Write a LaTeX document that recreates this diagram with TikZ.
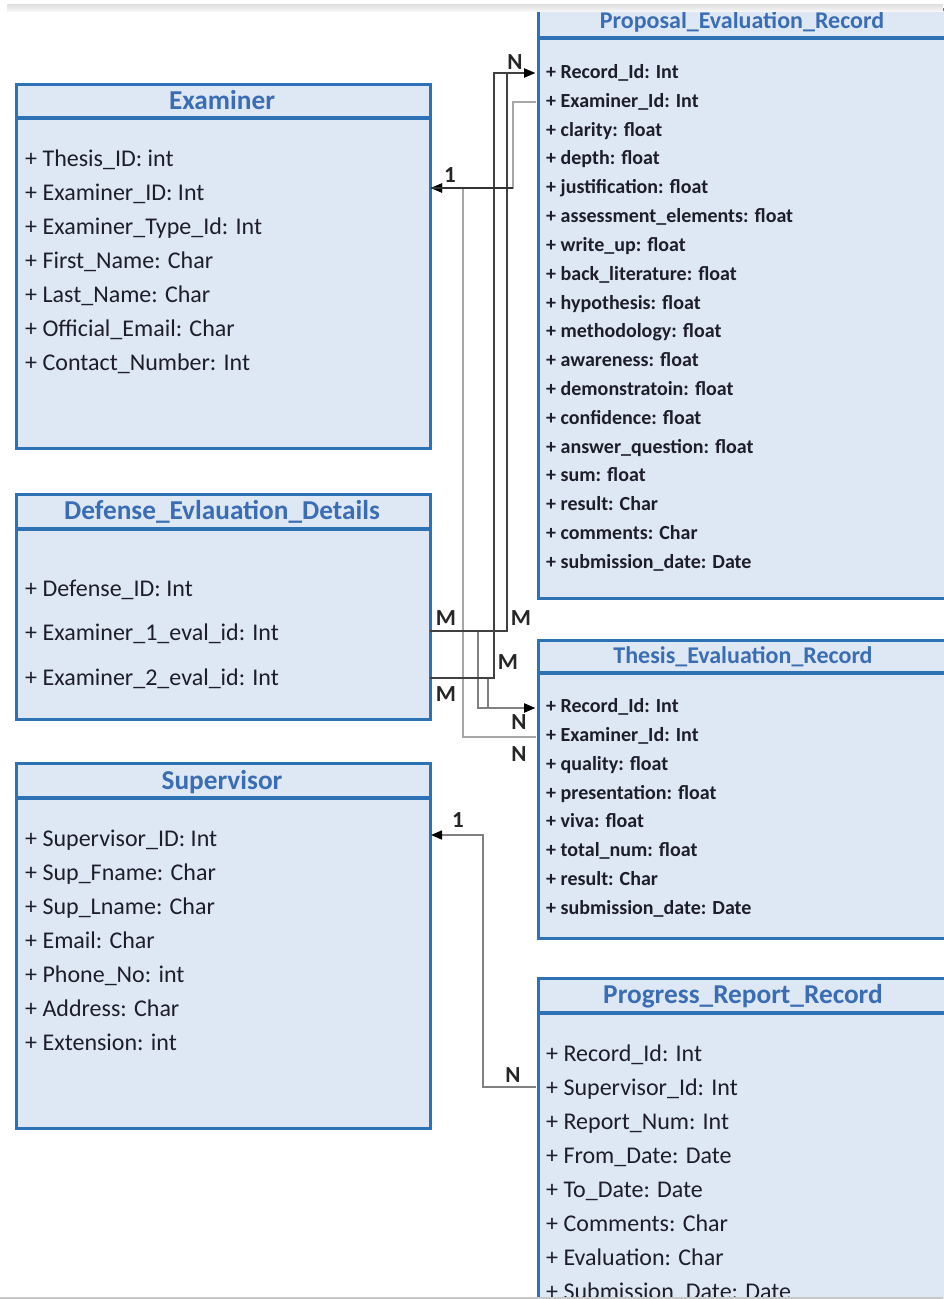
\documentclass[tikz,border=0pt]{standalone}
\usepackage{fontspec}
\setmainfont{Carlito}
\usetikzlibrary{arrows.meta}

\definecolor{boxfill}{HTML}{DEE8F4}
\definecolor{boxedge}{HTML}{2E72B6}
\definecolor{titleblue}{HTML}{3A6DB4}
\definecolor{fieldtext}{HTML}{1E1E2A}

\tikzset{
  entity/.style={draw=boxedge, fill=boxfill, line width=3.2pt, inner sep=0pt, anchor=north west},
  divider/.style={draw=boxedge, line width=3.2pt},
  ttl/.style={anchor=base, text=titleblue, inner sep=0pt, font=\bfseries\fontsize{27.3}{32}\selectfont},
  ttlsm/.style={ttl, font=\bfseries\fontsize{24}{28}\selectfont},
  fld/.style={anchor=base west, inner sep=0pt, text=fieldtext, font=\fontsize{24}{28}\selectfont},
  fldsm/.style={fld, font=\bfseries\fontsize{20}{24}\selectfont},
  card/.style={inner sep=0pt, text=black!85, font=\bfseries\fontsize{23}{26}\selectfont},
  tip/.style={-{Triangle[length=11pt,width=9pt,color=black]}},
  linkdark/.style={line width=1.5pt, draw=black!75, tip},
  linkmid/.style={line width=1.5pt, draw=black!50, tip},
  linklight/.style={line width=1.5pt, draw=black!35, tip},
}

\begin{document}
\begin{tikzpicture}[x=1pt,y=-1pt]
\useasboundingbox (0,0) rectangle (943,1299);
\fill[white] (0,0) rectangle (943,1299);

% ---------- Examiner ----------
\node[entity, minimum width=414pt, minimum height=364pt] (examiner) at (15,83) {};
\draw[divider] (15,118) -- (429,118);
\node[ttl] (examiner-t) at (222,109) {Examiner};
\foreach \t [count=\i from 0] in {Thesis\_ID: int, Examiner\_ID: Int, Examiner\_Type\_Id: Int,
    First\_Name: Char, Last\_Name: Char, Official\_Email: Char, Contact\_Number: Int}
  \node[fld] (ex\i) at (25,{166+34*\i}) {+ \t};

% ---------- Defense_Evlauation_Details ----------
\node[entity, minimum width=414pt, minimum height=225pt] (defense) at (15,493) {};
\draw[divider] (15,529) -- (429,529);
\node[ttl] (defense-t) at (222,519) {Defense\_Evlauation\_Details};
\node[fld] (df0) at (25,596) {+ Defense\_ID: Int};
\node[fld] (df1) at (25,640) {+ Examiner\_1\_eval\_id: Int};
\node[fld] (df2) at (25,685) {+ Examiner\_2\_eval\_id: Int};

% ---------- Supervisor ----------
\node[entity, minimum width=414pt, minimum height=365pt] (supervisor) at (15,762) {};
\draw[divider] (15,798) -- (429,798);
\node[ttl] (supervisor-t) at (222,789) {Supervisor};
\foreach \t [count=\i from 0] in {Supervisor\_ID: Int, Sup\_Fname: Char, Sup\_Lname: Char,
    Email: Char, Phone\_No: int, Address: Char, Extension: int}
  \node[fld] (sp\i) at (25,{846+34*\i}) {+ \t};

% ---------- Proposal_Evaluation_Record ----------
\node[entity, minimum width=413pt, minimum height=589pt] (proposal) at (537,8) {};
\draw[divider] (537,38) -- (950,38);
\node[ttlsm] (proposal-t) at (742,28) {Proposal\_Evaluation\_Record};
\foreach \t [count=\i from 0] in {Record\_Id: Int, Examiner\_Id: Int, clarity: float, depth: float,
    justification: float, assessment\_elements: float, write\_up: float, back\_literature: float,
    hypothesis: float, methodology: float, awareness: float, demonstratoin: float,
    confidence: float, answer\_question: float, sum: float, result: Char, comments: Char,
    submission\_date: Date}
  \node[fldsm] (pr\i) at (546,{78.5+28.82*\i}) {+ \t};

% ---------- Thesis_Evaluation_Record ----------
\node[entity, minimum width=413pt, minimum height=298pt] (thesis) at (537,639) {};
\draw[divider] (537,673) -- (950,673);
\node[ttlsm] (thesis-t) at (743,663) {Thesis\_Evaluation\_Record};
\foreach \t [count=\i from 0] in {Record\_Id: Int, Examiner\_Id: Int, quality: float,
    presentation: float, viva: float, total\_num: float, result: Char, submission\_date: Date}
  \node[fldsm] (th\i) at (546,{712.5+28.85*\i}) {+ \t};

% ---------- Progress_Report_Record ----------
\node[entity, minimum width=413pt, minimum height=360pt] (progress) at (537,977) {};
\draw[divider] (537,1013) -- (950,1013);
\node[ttl] (progress-t) at (743,1003) {Progress\_Report\_Record};
\foreach \t [count=\i from 0] in {Record\_Id: Int, Supervisor\_Id: Int, Report\_Num: Int,
    From\_Date: Date, To\_Date: Date, Comments: Char, Evaluation: Char, Submission\_Date: Date}
  \node[fld] (pg\i) at (546,{1061+34*\i}) {+ \t};

% ---------- attachment points on the box edges ----------
\coordinate (def-e1)   at (430,631);
\coordinate (def-e2)   at (430,678);
\coordinate (prop-rec) at (535,73);
\coordinate (prop-ex)  at (536,102);
\coordinate (thes-rec) at (535,708);
\coordinate (thes-ex)  at (536,737);
\coordinate (exam-in)  at (431,188);
\coordinate (sup-in)   at (431,835);
\coordinate (prog-sup) at (536,1087);

% ---------- relationships ----------
\draw[linklight] (thes-ex)  -| (463,188) -- (exam-in);
\draw[linklight] (prop-ex)  -| (513,188) -- (exam-in);
\draw[linkmid]   (prog-sup) -| (483,835) -- (sup-in);
\draw[linkmid]   (def-e1)   -| (478,708) -- (thes-rec);
\draw[linkmid]   (def-e2)   -| (488,708) -- (thes-rec);
\draw[linkdark]  (def-e1)   -| (507,73)  -- (prop-rec);
\draw[linkdark]  (def-e2)   -| (494,73)  -- (prop-rec);
\draw[line width=1.5pt, black!80] (exam-in) -- (513,188);

% ---------- multiplicities ----------
\node[card] (m-ex)   at (450,175) {1};
\node[card] (m-pr)   at (515,62)  {N};
\node[card] (m-d1)   at (446,618) {M};
\node[card] (m-d1b)  at (521,618) {M};
\node[card] (m-d2b)  at (508,662) {M};
\node[card] (m-d2)   at (446,694) {M};
\node[card] (m-th1)  at (519,722) {N};
\node[card] (m-th2)  at (519,754) {N};
\node[card] (m-sp)   at (458,820) {1};
\node[card] (m-pg)   at (513,1075) {N};

% ---------- page edges ----------
\shade[top color=black!13, bottom color=black!4] (7,4) rectangle (943,11);
\fill[black!22] (0,1296.5) rectangle (943,1299);
\end{tikzpicture}
\end{document}
